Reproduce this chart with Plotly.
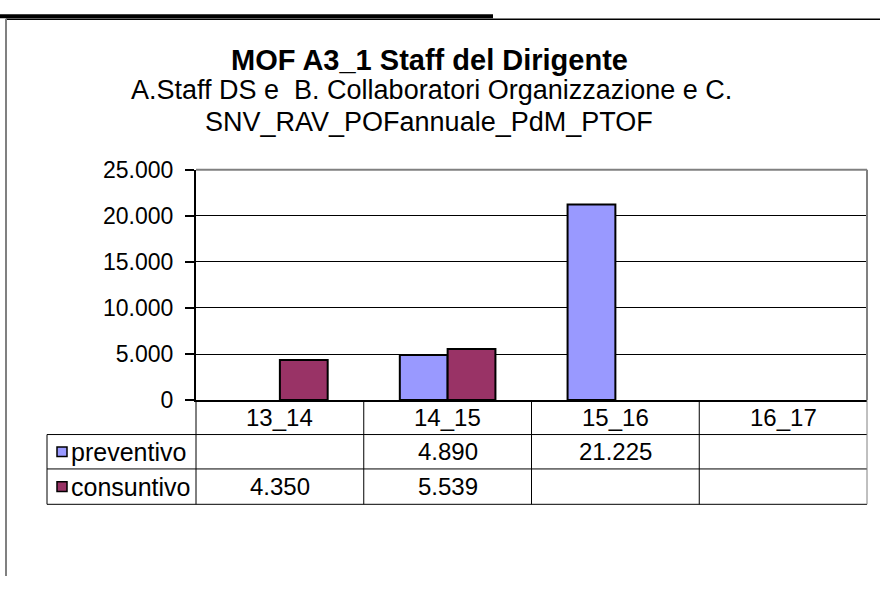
import plotly.graph_objects as go

# ---- data ----
categories = ["13_14", "14_15", "15_16", "16_17"]
series_names = ["preventivo", "consuntivo"]
preventivo = [None, 4890, 21225, None]
consuntivo = [4350, 5539, None, None]
colors = ["#9999FF", "#993366"]
title_text = "MOF A3_1 Staff del Dirigente"
subtitle_1 = "A.Staff DS e  B. Collaboratori Organizzazione e C."
subtitle_2 = "SNV_RAV_POFannuale_PdM_PTOF"

W, H = 880, 589
FONT = "Liberation Sans, Arial, sans-serif"


def px(x):
    return x / W


def py(y):
    return 1 - y / H


def fmt(v):
    return "" if v is None else f"{v:,}".replace(",", ".")


# plot area in pixels
PL, PR, PT, PB = 196, 867, 164, 405
ROW_Y = [405, 441, 477, 514]
TABLE_L = 47

fig = go.Figure()
for name, vals, col in zip(series_names, [preventivo, consuntivo], colors):
    fig.add_trace(go.Bar(
        x=categories, y=vals, name=name,
        marker=dict(color=col, line=dict(color="black", width=2)),
        showlegend=False,
    ))

shapes = []
def line(x0, y0, x1, y1, color="black", width=1):
    shapes.append(dict(type="line", xref="paper", yref="paper",
                       x0=px(x0), y0=py(y0), x1=px(x1), y1=py(y1),
                       line=dict(color=color, width=width), layer="above"))

# outer frame
line(0, 3.5, 493, 3.5, width=4)
line(6, 6.5, 880, 6.5, width=1.5)
line(6, 6, 6, 589, color="#808080", width=2)

# plot area border (top/right gray)
line(PL, PT, PR, PT, color="#808080", width=2)
line(PR, PT, PR, PB, color="#808080", width=2)

# data table
for y in ROW_Y[1:]:
    line(TABLE_L, y, PR, y)
line(TABLE_L, ROW_Y[1], TABLE_L, ROW_Y[3])
ncat = len(categories)
for i in range(ncat + 1):
    xx = PL + (PR - PL) * i / ncat
    line(xx, ROW_Y[0], xx, ROW_Y[3], color="#808080" if i == ncat else "black")

annotations = []
# titles
annotations.append(dict(text=f"<b>{title_text}</b>", x=px(429), y=py(49), xref="paper", yref="paper",
                        showarrow=False, xanchor="center", yanchor="middle",
                        font=dict(family=FONT, size=29, color="black")))
annotations.append(dict(text=subtitle_1, x=px(431), y=py(81), xref="paper", yref="paper",
                        showarrow=False, xanchor="center", yanchor="middle",
                        font=dict(family=FONT, size=27, color="black")))
annotations.append(dict(text=subtitle_2, x=px(429), y=py(114), xref="paper", yref="paper",
                        showarrow=False, xanchor="center", yanchor="middle",
                        font=dict(family=FONT, size=27, color="black")))

# category header row
for c in categories:
    annotations.append(dict(text=c, x=c, xref="x", y=py((ROW_Y[0] + ROW_Y[1]) / 2), yref="paper",
                            showarrow=False, xanchor="center", yanchor="middle",
                            font=dict(family=FONT, size=24, color="black")))
# value rows + legend keys
for r, (name, vals, col) in enumerate(zip(series_names, [preventivo, consuntivo], colors)):
    yc = (ROW_Y[r + 1] + ROW_Y[r + 2]) / 2
    shapes.append(dict(type="rect", xref="paper", yref="paper",
                       x0=px(57), x1=px(67), y0=py(yc - 5), y1=py(yc + 5),
                       fillcolor=col, line=dict(color="black", width=1.5), layer="above"))
    annotations.append(dict(text=name, x=px(69), y=py(yc), xref="paper", yref="paper",
                            showarrow=False, xanchor="left", yanchor="middle",
                            font=dict(family=FONT, size=25, color="black")))
    for c, v in zip(categories, vals):
        if v is None:
            continue
        annotations.append(dict(text=fmt(v), x=c, xref="x", y=py(yc), yref="paper",
                                showarrow=False, xanchor="center", yanchor="middle",
                                font=dict(family=FONT, size=24, color="black")))

fig.update_layout(
    width=W, height=H,
    margin=dict(l=0, r=0, t=0, b=0),
    paper_bgcolor="white", plot_bgcolor="white",
    separators=",.",
    barmode="group", bargap=0.43, bargroupgap=0,
    shapes=shapes, annotations=annotations,
    font=dict(family=FONT, color="black"),
    xaxis=dict(domain=[px(PL), px(PR)], showticklabels=False, ticks="",
               showline=True, linecolor="black", linewidth=2, showgrid=False,
               zeroline=False, fixedrange=True),
    yaxis=dict(domain=[py(PB), py(PT)], range=[0, 25000], dtick=5000,
               tickformat=",.0f", showgrid=True, gridcolor="black", gridwidth=1,
               showline=True, linecolor="black", linewidth=2,
               ticks="outside", ticklen=9, tickwidth=1.5, tickcolor="black",
               ticklabelstandoff=7,
               tickfont=dict(family=FONT, size=23, color="black"),
               zeroline=False, fixedrange=True),
)

fig.write_html(
    "out.html",
    config={"displayModeBar": False},
    post_script=["document.body.style.margin='0';document.body.style.overflow='hidden';"],
)
